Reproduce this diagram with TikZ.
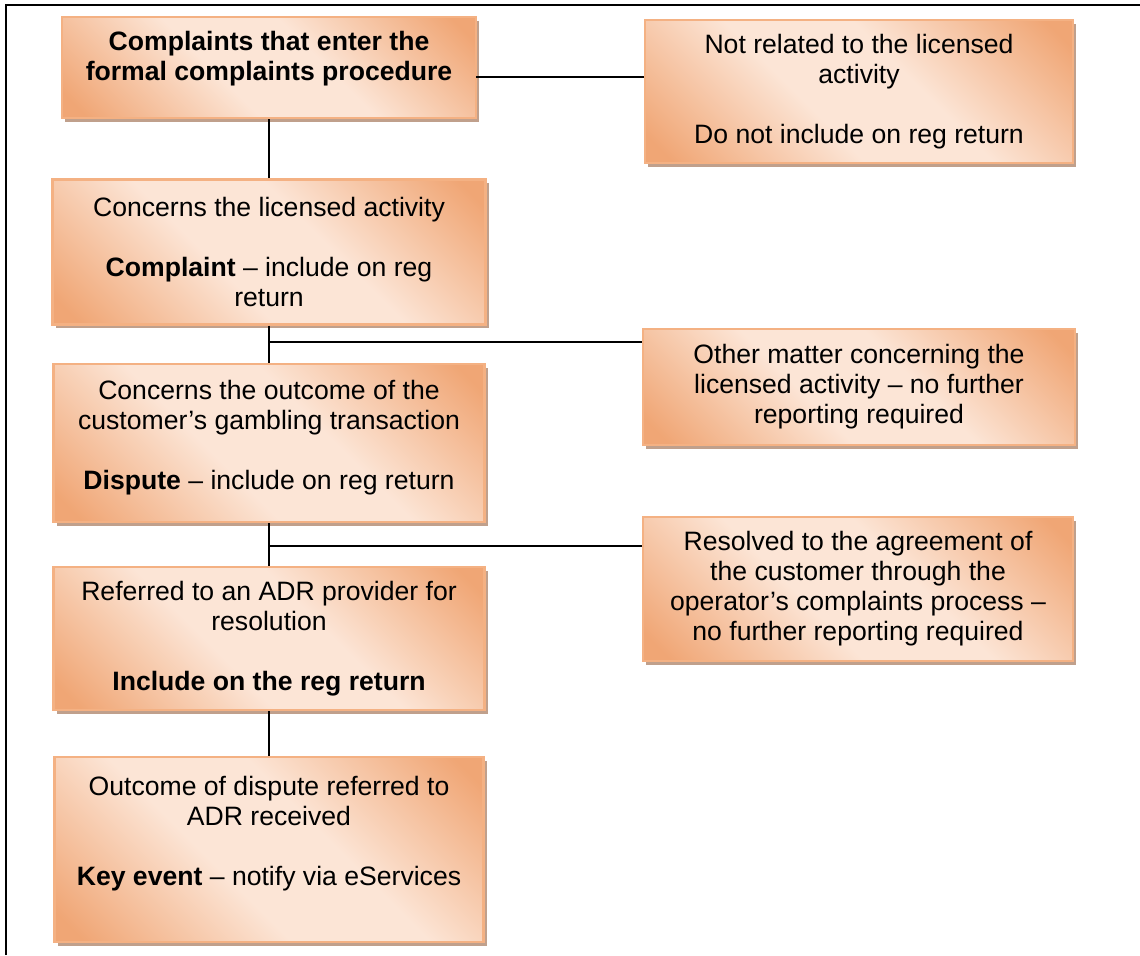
\documentclass[tikz,border=0pt]{standalone}
\usepackage{fontspec}
\setmainfont{Liberation Sans}
\usetikzlibrary{shadows}

\definecolor{boxorange}{RGB}{240,166,117}
\definecolor{boxlight}{RGB}{252,229,214}
\definecolor{boxedge}{RGB}{244,177,131}
\definecolor{boxshadow}{RGB}{192,160,140}

\pgfdeclareverticalshading{peach}{100bp}{color(0bp)=(boxorange); color(18bp)=(boxorange); color(42bp)=(boxlight); color(58bp)=(boxlight); color(82bp)=(boxorange); color(100bp)=(boxorange)}

\begin{document}
\begin{tikzpicture}[x=0.455pt,y=-0.455pt]
   \useasboundingbox (0,0) rectangle (1140,955);
   \draw[line width=1pt] (6,955) -- (6,5) -- (1140,5);
   \begin{scope}[every node/.style={rectangle,draw=boxedge,line width=1pt,shading=peach,shading angle=-45,
       drop shadow={shadow xshift=1.4pt,shadow yshift=-1.8pt,fill=boxshadow,opacity=1},
       inner sep=0pt,align=center,font=\fontsize{12.1}{13.65}\selectfont}]
    \node[minimum width=188.4pt,minimum height=46pt] (b1) at (269,67.5)
      {\textbf{Complaints that enter the}\\\textbf{formal complaints procedure}\\[-3pt]\mbox{}};
    \node[minimum width=197pt,minimum height=66pt] (b2) at (269,252)
      {Concerns the licensed activity\\[13.65pt]\textbf{Complaint} -- include on reg\\return};
    \node[minimum width=196.1pt,minimum height=71.9pt] (b3) at (269,443)
      {Concerns the outcome of the\\customer’s gambling transaction\\[13.65pt]\textbf{Dispute} -- include on reg return\\[-6pt]\mbox{}};
    \node[minimum width=196.1pt,minimum height=65.1pt] (b4) at (269,638.5)
      {Referred to an ADR provider for\\resolution\\[13.65pt]\textbf{Include on the reg return}};
    \node[minimum width=195.2pt,minimum height=84.2pt] (b5) at (269,849.5)
      {Outcome of dispute referred to\\ADR received\\[13.65pt]\textbf{Key event} -- notify via eServices\\[3.5pt]\mbox{}};
    \node[minimum width=194.7pt,minimum height=65.1pt] (r1) at (859,91.5)
      {Not related to the licensed\\activity\\[13.65pt]Do not include on reg return};
    \node[minimum width=196.6pt,minimum height=52.8pt] (r2) at (859,387)
      {Other matter concerning the\\licensed activity -- no further\\reporting required};
    \node[minimum width=195.7pt,minimum height=65.5pt] (r3) at (858,589)
      {Resolved to the agreement of\\the customer through the\\operator’s complaints process --\\no further reporting required};
   \end{scope}
   \coordinate (j0) at (476,77);
   \coordinate (j1) at (269,342);
   \coordinate (j2) at (269,546);
   \begin{scope}[every edge/.style={draw=black,line width=0.8pt}]
    \draw (j0) edge (j0 -| r1.west);
    \draw (b1) edge (b2);
    \draw (b2) edge (b3);
    \draw (j1) edge (j1 -| r2.west);
    \draw (b3) edge (b4);
    \draw (j2) edge (j2 -| r3.west);
    \draw (b4) edge (b5);
   \end{scope}
\end{tikzpicture}
\end{document}
